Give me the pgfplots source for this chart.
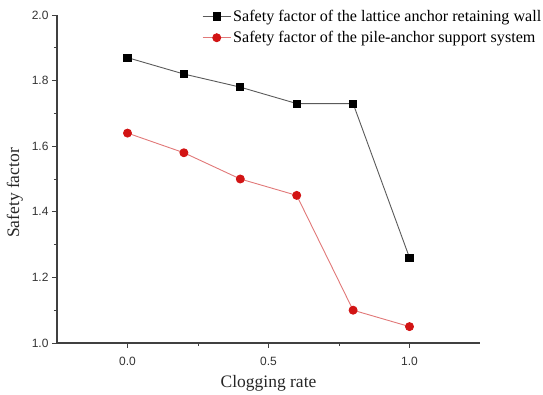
\documentclass[border=0pt]{standalone}
\usepackage{pgfplots}
\pgfplotsset{compat=1.18}
\usepackage{fontspec}
\setmainfont{Liberation Serif}
\setsansfont{Liberation Sans}
\definecolor{redm}{RGB}{210,20,20}
\definecolor{redl}{RGB}{225,120,120}
\definecolor{grayl}{RGB}{90,90,90}
\begin{document}
\begin{tikzpicture}
\begin{axis}[
  name=ax,
  scale only axis,
  width=423pt, height=328pt,
  xmin=-0.25, xmax=1.25, ymin=1.0, ymax=2.0,
  axis lines=left,
  axis line style={-, line width=1.1pt, black!75},
  xtick={0,0.5,1}, ytick={1.0,1.2,...,2.0},
  minor x tick num=1, minor y tick num=1,
  tick align=outside,
  major tick length=5pt, minor tick length=3pt,
  tick style={line width=0.9pt, black!75},
  xticklabel style={yshift=-6pt, /pgf/number format/.cd, fixed, fixed zerofill, precision=1},
  yticklabel style={/pgf/number format/.cd, fixed, fixed zerofill, precision=1},
  /pgf/number format/assume math mode=true,
  ticklabel style={font=\sffamily\fontsize{12}{14}\selectfont, text=black!80},
  xlabel={Clogging rate}, ylabel={Safety factor},
  label style={font=\fontsize{17.5}{19}\selectfont, text=black!85},
  xlabel style={yshift=-2pt},
  ylabel style={yshift=2pt, xshift=-14pt},
  clip=false,
  legend style={draw=none, fill=none, at={(rel axis cs:0.343,1.022)}, anchor=north west,
    font=\fontsize{16.1}{17}\selectfont, row sep=4.5pt, inner xsep=0pt, inner ysep=0pt,
    nodes={inner xsep=2pt}},
  legend cell align=left,
  legend image code/.code={\draw[mark repeat=2,mark phase=2,#1] plot coordinates {(0pt,0pt) (14pt,0pt) (28pt,0pt)};},
]
\addplot[grayl, line width=0.9pt, mark=square*, mark size=3.6pt, mark options={fill=black, draw=black}]
  coordinates {(0,1.87) (0.2,1.82) (0.4,1.78) (0.6,1.73) (0.8,1.73) (1.0,1.26)};
\addlegendentry{Safety factor of the lattice anchor retaining wall}
\addplot[redl, line width=0.9pt, mark=*, mark size=4pt, mark options={fill=redm, draw=redm}]
  coordinates {(0,1.64) (0.2,1.58) (0.4,1.50) (0.6,1.45) (0.8,1.10) (1.0,1.05)};
\addlegendentry{Safety factor of the pile-anchor support system}
\end{axis}
\pgfresetboundingbox
\path (ax.south west) ++(-57pt,-52pt) (ax.north east) ++(63pt,15pt);
\end{tikzpicture}
\end{document}
